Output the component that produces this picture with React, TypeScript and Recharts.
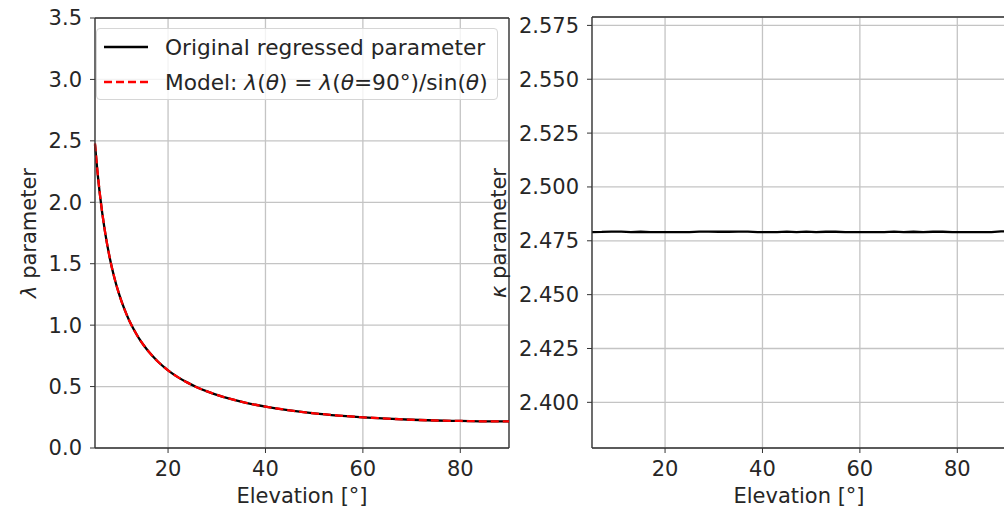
import React from 'react';
import { LineChart, Line, XAxis, YAxis, CartesianGrid, ReferenceLine, Legend } from 'recharts';

// elevation samples (deg)
const THETA = [5, 5.5, 6, 7, 8, 9, 10, 11, 12, 13, 14, 15, 16, 18, 20, 22, 24, 26, 28, 30, 33, 36, 40, 45, 50, 55, 60, 65, 70, 75, 80, 85, 90];
const LAMBDA_ORIG = [2.47, 2.25, 2.065, 1.774, 1.553, 1.382, 1.246, 1.134, 1.04, 0.962, 0.894, 0.836, 0.785, 0.7, 0.632, 0.577, 0.532, 0.493, 0.461, 0.433, 0.397, 0.368, 0.337, 0.306, 0.282, 0.264, 0.25, 0.239, 0.23, 0.224, 0.22, 0.217, 0.216];
const LAMBDA_MODEL = [2.48, 2.257, 2.069, 1.775, 1.554, 1.383, 1.246, 1.134, 1.04, 0.962, 0.894, 0.836, 0.785, 0.7, 0.632, 0.577, 0.532, 0.493, 0.461, 0.433, 0.397, 0.368, 0.337, 0.306, 0.282, 0.264, 0.25, 0.239, 0.23, 0.224, 0.22, 0.217, 0.216];

// right panel, kappa stays flat around 2.479
const THETA_K = [5, 7, 9, 11, 13, 15, 17, 19, 21, 23, 25, 27, 29, 31, 33, 35, 37, 39, 41, 43, 45, 47, 49, 51, 53, 55, 57, 59, 61, 63, 65, 67, 69, 71, 73, 75, 77, 79, 81, 83, 85, 87, 89, 90];
const KAPPA = [2.479, 2.4791, 2.4793, 2.4793, 2.479, 2.4792, 2.479, 2.479, 2.479, 2.479, 2.479, 2.4793, 2.4793, 2.4792, 2.4792, 2.4793, 2.4793, 2.479, 2.479, 2.479, 2.4793, 2.479, 2.4793, 2.479, 2.4792, 2.4792, 2.479, 2.479, 2.479, 2.479, 2.479, 2.4793, 2.479, 2.4792, 2.479, 2.4792, 2.4792, 2.479, 2.479, 2.479, 2.479, 2.479, 2.4794, 2.4794];

const X_TICKS = [20, 40, 60, 80];
const LAMBDA_TICKS = [0, 0.5, 1, 1.5, 2, 2.5, 3, 3.5];
const KAPPA_TICKS = [2.4, 2.425, 2.45, 2.475, 2.5, 2.525, 2.55, 2.575];

const FONT = '"DejaVu Sans", sans-serif';
const INK = '#262626';
const SPINE = '#333';
const GRID = '#c4c4c4';

const lambdaData = THETA.map((t, i) => ({ theta: t, orig: LAMBDA_ORIG[i], model: LAMBDA_MODEL[i] }));
const kappaData = THETA_K.map((t, i) => ({ theta: t, kappa: KAPPA[i] }));

const tickStyle = { fill: INK, fontSize: 21, fontFamily: FONT };

const LegendBox = () => (
  <div style={{
    width: 402, height: 72, boxSizing: 'border-box', position: 'relative',
    border: '1px solid #d6d6d6', borderRadius: 4, background: 'rgba(255,255,255,0.8)',
    fontFamily: FONT, fontSize: 21.7, color: INK, whiteSpace: 'nowrap',
  }}>
    <div style={{ position: 'absolute', left: 0, top: 4, height: 28, display: 'flex', alignItems: 'center' }}>
      <svg width={60} height={28}><line x1={7} x2={51} y1={14} y2={14} stroke="#000" strokeWidth={2.3} /></svg>
      <span style={{ marginLeft: 8 }}>Original regressed parameter</span>
    </div>
    <div style={{ position: 'absolute', left: 0, top: 39, height: 28, display: 'flex', alignItems: 'center' }}>
      <svg width={60} height={28}><line x1={7} x2={51} y1={14} y2={14} stroke="#ff0000" strokeWidth={2.3} strokeDasharray="8 4" /></svg>
      <span style={{ marginLeft: 8 }}>
        Model: <i>λ</i>(<i>θ</i>) = <i>λ</i>(<i>θ</i>=90°)/sin(<i>θ</i>)
      </span>
    </div>
  </div>
);

const xTitle = (cx: number) => () => (
  <text x={cx} y={503} textAnchor="middle" fill={INK} fontSize={21} fontFamily={FONT}>Elevation [°]</text>
);

const yTitle = (x: number, sym: string) => () => (
  <text transform={`translate(${x},233) rotate(-90)`} textAnchor="middle" fill={INK} fontSize={21} fontFamily={FONT}>
    <tspan fontStyle="italic">{sym}</tspan> parameter
  </text>
);

export default function App() {
  return (
    <div style={{ position: 'absolute', left: 0, top: 0, width: 1004, height: 509, overflow: 'hidden', background: '#fff' }}>
      <div style={{ position: 'absolute', left: 0, top: 0 }}>
        <LineChart width={520} height={509} data={lambdaData} margin={{ top: 18, right: 11, bottom: 0, left: 0 }}>
          <CartesianGrid stroke={GRID} strokeWidth={1.3} />
          <XAxis dataKey="theta" type="number" domain={[5, 90]} ticks={X_TICKS} height={61}
            tick={tickStyle} tickSize={5} tickMargin={8} axisLine={{ stroke: SPINE, strokeWidth: 1.3 }} tickLine={{ stroke: SPINE }}
            label={xTitle(302)} />
          <YAxis type="number" domain={[0, 3.5]} ticks={LAMBDA_TICKS} width={95} allowDataOverflow
            tick={tickStyle} tickSize={5} tickMargin={8} axisLine={{ stroke: SPINE, strokeWidth: 1.3 }} tickLine={{ stroke: SPINE }}
            tickFormatter={(v: number) => v.toFixed(1)} label={yTitle(36, 'λ')} />
          <ReferenceLine y={3.5} stroke={SPINE} strokeWidth={1.3} />
          <ReferenceLine x={90} stroke={SPINE} strokeWidth={1.3} />
          <Line type="monotone" dataKey="orig" stroke="#000" strokeWidth={2.3} dot={false} isAnimationActive={false} />
          <Line type="monotone" dataKey="model" stroke="#ff0000" strokeWidth={2.3} strokeDasharray="8 4" dot={false} isAnimationActive={false} />
          <Legend content={LegendBox} layout="horizontal" verticalAlign="middle" align="center"
            wrapperStyle={{ left: 96, top: 28, width: 402, height: 72 }} />
        </LineChart>
      </div>
      <div style={{ position: 'absolute', left: 480, top: 0 }}>
        <LineChart width={540} height={509} data={kappaData} margin={{ top: 17, right: 14, bottom: 0, left: 0 }}>
          <CartesianGrid stroke={GRID} strokeWidth={1.3} />
          <XAxis dataKey="theta" type="number" domain={[5, 90]} ticks={X_TICKS} height={61}
            tick={tickStyle} tickSize={5} tickMargin={8} axisLine={{ stroke: SPINE, strokeWidth: 1.3 }} tickLine={{ stroke: SPINE }}
            label={xTitle(319)} />
          <YAxis type="number" domain={[2.3788, 2.5789]} ticks={KAPPA_TICKS} width={112} allowDataOverflow
            tick={tickStyle} tickSize={5} tickMargin={8} axisLine={{ stroke: SPINE, strokeWidth: 1.3 }} tickLine={{ stroke: SPINE }}
            tickFormatter={(v: number) => v.toFixed(3)} label={yTitle(26, 'κ')} />
          <ReferenceLine y={2.5789} stroke={SPINE} strokeWidth={1.3} />
          <Line type="linear" dataKey="kappa" stroke="#000" strokeWidth={2.3} dot={false} isAnimationActive={false} />
        </LineChart>
      </div>
    </div>
  );
}
